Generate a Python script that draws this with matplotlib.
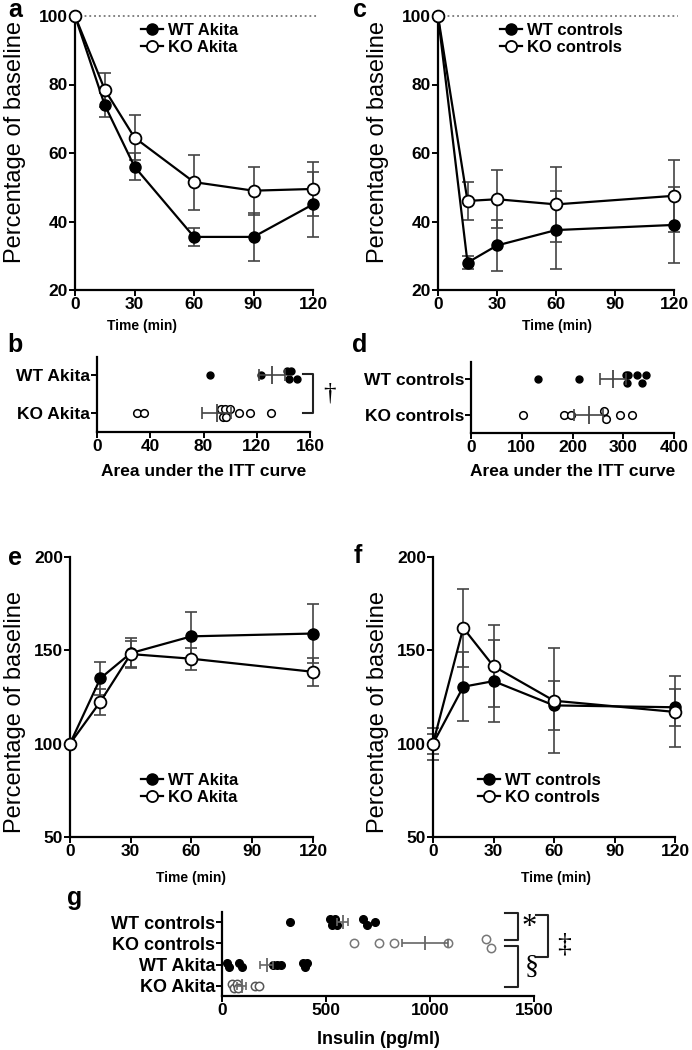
import numpy as np
import matplotlib
matplotlib.use('Agg')
import matplotlib.pyplot as plt
from matplotlib.lines import Line2D

plt.rcParams['font.family'] = ['Liberation Sans', 'DejaVu Sans']

# panel a - ITT, Akita
t_a = [0, 15, 30, 60, 90, 120]
wt_akita_itt = [100, 74, 56, 35.5, 35.5, 45]
wt_akita_itt_sem = [0, 3.5, 4, 2.7, 7, 9.5]
ko_akita_itt = [100, 78.5, 64.5, 51.5, 49, 49.5]
ko_akita_itt_sem = [0, 5, 6.5, 8, 7, 8]

# panel c - ITT, controls
t_c = [0, 15, 30, 60, 120]
wt_ctrl_itt = [100, 28, 33, 37.5, 39]
wt_ctrl_itt_sem = [0, 2, 7.5, 11.5, 11]
ko_ctrl_itt = [100, 46, 46.5, 45, 47.5]
ko_ctrl_itt_sem = [0, 5.5, 8.5, 11, 10.5]

# panel b / d - area under ITT curve
wt_akita_auc = [85, 123, 143, 144, 146, 150]
ko_akita_auc = [30, 35, 93, 95, 96, 97, 100, 107, 115, 131]
akita_auc_mean = [131.5, 90]
akita_auc_sem = [10, 11]
wt_ctrl_auc = [133, 213, 305, 308, 310, 328, 336, 345]
ko_ctrl_auc = [103, 184, 198, 262, 266, 293, 318]
ctrl_auc_mean = [280, 232]
ctrl_auc_sem = [25, 29]

# panel e / f
t_e = [0, 15, 30, 60, 120]
wt_akita_e = [100, 135, 148.5, 157.5, 159]
wt_akita_e_sem = [0, 9, 8, 13, 16]
ko_akita_e = [100, 122.5, 148, 145.5, 138.5]
ko_akita_e_sem = [0, 7, 7, 6, 7.5]
wt_ctrl_f = [100, 130.5, 133.5, 120.5, 119.5]
wt_ctrl_f_sem = [5.4, 18.5, 22, 13, 10]
ko_ctrl_f = [100, 162, 141.5, 123, 117]
ko_ctrl_f_sem = [8.5, 21, 22, 28, 19]

# panel g - insulin
ins_groups = ['WT controls', 'KO controls', 'WT Akita', 'KO Akita']
wt_ctrl_ins = [327, 520, 530, 545, 555, 680, 695, 735]
ko_ctrl_ins = [635, 755, 827, 1087, 1270, 1293]
wt_akita_ins = [25, 35, 80, 95, 245, 265, 285, 390, 400, 410]
ko_akita_ins = [50, 60, 70, 75, 160, 180]
ins_mean = [580, 976, 215, 95]
ins_sem = [28, 112, 30, 22]

W, H = 692, 1050
fig = plt.figure(figsize=(W / 100, H / 100), dpi=100)


def box(l, t, r, b):
    return [l / W, 1 - b / H, (r - l) / W, (b - t) / H]


def ftext(x, y, s, **kw):
    fig.text(x / W, 1 - y / H, s, **kw)


def style(ax, tsize=12.5):
    for s in ['top', 'right']:
        ax.spines[s].set_visible(False)
    for s in ['left', 'bottom']:
        ax.spines[s].set_linewidth(1.6)
    ax.tick_params(direction='out', length=4, width=1.4, labelsize=tsize, pad=1)
    for lab in ax.get_xticklabels() + ax.get_yticklabels():
        lab.set_fontweight('bold')


def curve(ax, t, wt, wt_sem, ko, ko_sem):
    ax.errorbar(t, wt, yerr=wt_sem, fmt='none', ecolor='#444444', elinewidth=1.2,
                capsize=4.5, capthick=1.2, zorder=1, clip_on=False)
    ax.errorbar(t, ko, yerr=ko_sem, fmt='none', ecolor='#444444', elinewidth=1.2,
                capsize=4.5, capthick=1.2, zorder=1, clip_on=False)
    ax.plot(t, wt, '-o', color='black', lw=1.6, ms=8, zorder=3, clip_on=False)
    ax.plot(t, ko, '-o', color='black', lw=1.6, ms=8.5, mfc='white', mew=1.3,
            zorder=4, clip_on=False)


def legend(ax, labels, x, y):
    h = [Line2D([], [], color='black', lw=1.6, marker='o', ms=8),
         Line2D([], [], color='black', lw=1.6, marker='o', ms=8, mfc='white', mew=1.3)]
    ax.legend(h, labels, loc='upper left', bbox_to_anchor=(x / W, 1 - y / H),
              bbox_transform=fig.transFigure, frameon=False, handlelength=1.3,
              handletextpad=0.3, labelspacing=0.1, borderpad=0, borderaxespad=0,
              prop={'weight': 'bold', 'size': 12})


def swarm(vals, thr, d):
    vals = np.asarray(vals, float)
    order = np.argsort(vals)
    offs = np.zeros(len(vals))
    clusters = [[order[0]]]
    for i in order[1:]:
        if vals[i] - vals[clusters[-1][-1]] < thr:
            clusters[-1].append(i)
        else:
            clusters.append([i])
    for c in clusters:
        if len(c) > 1:
            for k, i in enumerate(c):
                offs[i] = d if k % 2 == 0 else -d
    return offs


def dots(ax, vals, row, thr, d, filled, color='black', ms=5):
    offs = swarm(vals, thr, d)
    if filled:
        ax.plot(vals, row + offs, 'o', color=color, ms=ms, ls='none', zorder=3, clip_on=False)
    else:
        ax.plot(vals, row + offs, 'o', mfc='white', mec=color, mew=1.1, ms=ms + 0.5,
                ls='none', zorder=3, clip_on=False)


def meanbar(ax, m, s, row, color='#444444', cap=4.3, tall=13):
    ax.errorbar([m], [row], xerr=[s], fmt='none', ecolor=color, elinewidth=1.2,
                capsize=cap, capthick=1.2, zorder=4)
    ax.plot([m], [row], marker='|', color=color, ms=tall, mew=1.3, zorder=4)


# ---- a ----
ax = fig.add_axes(box(75, 16, 313, 290))
ax.plot([0, 123], [100, 100], ls=':', color='#777777', lw=1.3, clip_on=False, zorder=0)
curve(ax, t_a, wt_akita_itt, wt_akita_itt_sem, ko_akita_itt, ko_akita_itt_sem)
ax.set_xlim(0, 120)
ax.set_ylim(20, 100)
ax.set_xticks([0, 30, 60, 90, 120])
ax.set_yticks([20, 40, 60, 80, 100])
style(ax)
legend(ax, ['WT Akita', 'KO Akita'], 141, 23)

# ---- c ----
ax = fig.add_axes(box(438, 16, 674, 290))
ax.plot([0, 122], [100, 100], ls=':', color='#777777', lw=1.3, clip_on=False, zorder=0)
curve(ax, t_c, wt_ctrl_itt, wt_ctrl_itt_sem, ko_ctrl_itt, ko_ctrl_itt_sem)
ax.set_xlim(0, 120)
ax.set_ylim(20, 100)
ax.set_xticks([0, 30, 60, 90, 120])
ax.set_yticks([20, 40, 60, 80, 100])
style(ax)
legend(ax, ['WT controls', 'KO controls'], 500, 23)

for x in [15, 378]:
    ftext(x, 142, 'Percentage of baseline', rotation=90, ha='center', va='center', fontsize=17)
ftext(142, 326, 'Time (min)', ha='center', va='center', fontsize=10, fontweight='bold')
ftext(557, 326, 'Time (min)', ha='center', va='center', fontsize=10, fontweight='bold')

# ---- b ----
ax = fig.add_axes(box(97, 357, 310, 432))
dots(ax, wt_akita_auc, 1, 4.5, 0.11, True)
dots(ax, ko_akita_auc, 0, 4.5, 0.11, False)
meanbar(ax, akita_auc_mean[0], akita_auc_sem[0], 1)
meanbar(ax, akita_auc_mean[1], akita_auc_sem[1], 0)
ax.set_xlim(0, 160)
ax.set_ylim(-0.5, 1.47)
ax.set_xticks([0, 40, 80, 120, 160])
ax.set_yticks([1, 0])
ax.set_yticklabels(['WT Akita', 'KO Akita'])
style(ax)
for lab in ax.get_yticklabels():
    lab.set_fontsize(12.5)
ax.plot([155, 162, 162, 155], [1.03, 1.03, 0.0, 0.0], color='#222222', lw=1.5, clip_on=False)
ax.text(175, 0.52, '†', ha='center', va='center', fontsize=18,
        family=['Liberation Serif', 'DejaVu Serif'])
ftext(204, 472, 'Area under the ITT curve', ha='center', va='center', fontsize=12.5,
      fontweight='bold')

# ---- d ----
ax = fig.add_axes(box(471, 362, 674, 433))
dots(ax, wt_ctrl_auc, 1, 12, 0.12, True)
dots(ax, ko_ctrl_auc, 0, 12, 0.12, False)
meanbar(ax, ctrl_auc_mean[0], ctrl_auc_sem[0], 1)
meanbar(ax, ctrl_auc_mean[1], ctrl_auc_sem[1], 0)
ax.set_xlim(0, 400)
ax.set_ylim(-0.5, 1.47)
ax.set_xticks([0, 100, 200, 300, 400])
ax.set_yticks([1, 0])
ax.set_yticklabels(['WT controls', 'KO controls'])
style(ax)
for lab in ax.get_yticklabels():
    lab.set_fontsize(12.5)
ftext(573, 472, 'Area under the ITT curve', ha='center', va='center', fontsize=12.5,
      fontweight='bold')

# ---- e ----
ax = fig.add_axes(box(70, 557, 313, 837))
curve(ax, t_e, wt_akita_e, wt_akita_e_sem, ko_akita_e, ko_akita_e_sem)
ax.set_xlim(0, 120)
ax.set_ylim(50, 200)
ax.set_xticks([0, 30, 60, 90, 120])
ax.set_yticks([50, 100, 150, 200])
style(ax)
legend(ax, ['WT Akita', 'KO Akita'], 141, 773)

# ---- f ----
ax = fig.add_axes(box(433, 557, 675, 837))
curve(ax, t_e, wt_ctrl_f, wt_ctrl_f_sem, ko_ctrl_f, ko_ctrl_f_sem)
ax.set_xlim(0, 120)
ax.set_ylim(50, 200)
ax.set_xticks([0, 30, 60, 90, 120])
ax.set_yticks([50, 100, 150, 200])
style(ax)
legend(ax, ['WT controls', 'KO controls'], 478, 773)

ftext(15, 712, 'Percentage of baseline', rotation=90, ha='center', va='center', fontsize=17)
ftext(378, 712, 'Percentage of baseline', rotation=90, ha='center', va='center', fontsize=17)
ftext(191, 878, 'Time (min)', ha='center', va='center', fontsize=10, fontweight='bold')
ftext(556, 878, 'Time (min)', ha='center', va='center', fontsize=10, fontweight='bold')

# ---- g ----
ax = fig.add_axes(box(222, 912, 534, 996))
rows = [3, 2, 1, 0]
dots(ax, wt_ctrl_ins, rows[0], 18, 0.13, True, ms=5.5)
dots(ax, ko_ctrl_ins, rows[1], 30, 0.2, False, color='#777777', ms=5.5)
dots(ax, wt_akita_ins, rows[2], 18, 0.1, True, ms=5.5)
dots(ax, ko_akita_ins, rows[3], 18, 0.08, False, color='#555555', ms=5.5)
for m, s, r in zip(ins_mean, ins_sem, rows):
    meanbar(ax, m, s, r, color='#666666', cap=3, tall=10)
ax.set_xlim(0, 1500)
ax.set_ylim(-0.47, 3.47)
ax.set_xticks([0, 500, 1000, 1500])
ax.set_yticks(rows)
ax.set_yticklabels(ins_groups)
style(ax)
for lab in ax.get_yticklabels():
    lab.set_fontsize(13)
bk = dict(color='#222222', lw=1.5, clip_on=False)
ax.plot([1360, 1423, 1423, 1360], [3.42, 3.42, 2.16, 2.16], **bk)
ax.plot([1360, 1423, 1423, 1360], [1.87, 1.87, -0.05, -0.05], **bk)
ax.plot([1510, 1567, 1567, 1510], [3.33, 3.33, 1.36, 1.36], **bk)
serif = ['Liberation Serif', 'DejaVu Serif']
ax.text(1478, 2.72, '*', ha='center', va='center', fontsize=22, family=serif)
ax.text(1488, 0.89, '§', ha='center', va='center', fontsize=20, family=serif)
ax.text(1645, 1.92, '‡', ha='center', va='center', fontsize=20, family=serif)
ftext(378, 1040, 'Insulin (pg/ml)', ha='center', va='center', fontsize=13, fontweight='bold')

# panel letters
for s, x, y in [('a', 15, 10), ('c', 360, 10), ('b', 15, 345), ('d', 360, 345),
                ('e', 15, 558), ('f', 358, 556), ('g', 75, 898)]:
    ftext(x, y, s, ha='center', va='center', fontsize=18, fontweight='bold')

fig.savefig('out.png', dpi=100)
